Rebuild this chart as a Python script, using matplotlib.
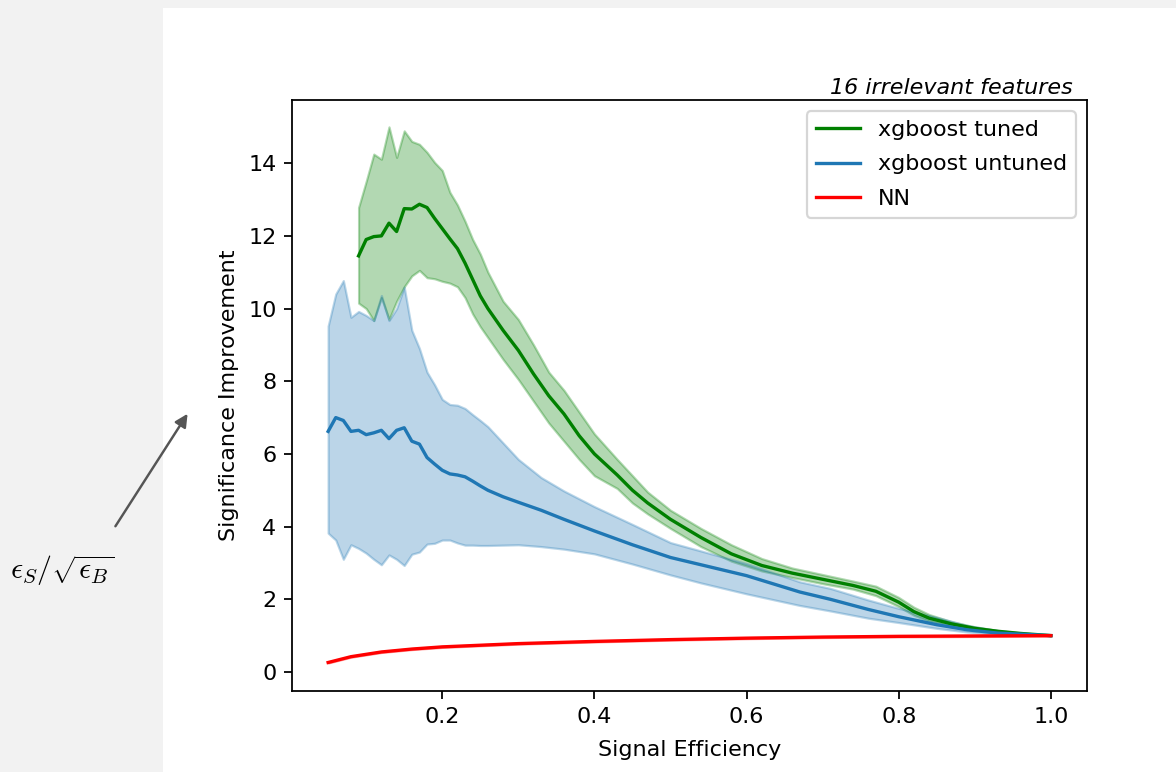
import matplotlib
matplotlib.use('Agg')
import matplotlib.pyplot as plt
from matplotlib.patches import Rectangle, FancyArrowPatch

plt.rcParams['mathtext.fontset'] = 'cm'

# xgboost tuned
x_tuned = [0.09, 0.10, 0.11, 0.12, 0.13, 0.14, 0.15, 0.16, 0.17, 0.18, 0.19, 0.20,
           0.21, 0.22, 0.23, 0.24, 0.25, 0.26, 0.28, 0.30, 0.32, 0.34, 0.36, 0.38,
           0.40, 0.43, 0.45, 0.47, 0.50, 0.54, 0.58, 0.62, 0.66, 0.70, 0.74, 0.77,
           0.80, 0.82, 0.84, 0.87, 0.90, 0.93, 0.96, 1.0]
tuned_mean = [11.45, 11.9, 11.98, 12.0, 12.35, 12.12, 12.75, 12.74, 12.87, 12.78, 12.48, 12.2,
              11.92, 11.65, 11.25, 10.8, 10.35, 10.0, 9.4, 8.85, 8.2, 7.6, 7.1, 6.5,
              6.0, 5.42, 5.0, 4.65, 4.2, 3.7, 3.25, 2.93, 2.72, 2.55, 2.38, 2.22,
              1.92, 1.66, 1.48, 1.32, 1.2, 1.12, 1.06, 1.0]
tuned_hi = [12.78, 13.5, 14.25, 14.11, 15.0, 14.16, 14.89, 14.6, 14.52, 14.3, 14.02, 13.8,
            13.2, 12.85, 12.4, 11.9, 11.5, 11.0, 10.2, 9.7, 9.0, 8.25, 7.75, 7.15,
            6.55, 5.85, 5.4, 4.95, 4.45, 3.95, 3.5, 3.12, 2.86, 2.68, 2.5, 2.36,
            2.05, 1.78, 1.58, 1.38, 1.24, 1.14, 1.07, 1.0]
tuned_lo = [10.15, 10.0, 9.67, 10.3, 9.7, 10.2, 10.6, 10.9, 11.05, 10.85, 10.82, 10.75,
            10.7, 10.6, 10.3, 9.85, 9.5, 9.2, 8.6, 8.05, 7.45, 6.85, 6.35, 5.85,
            5.4, 5.05, 4.65, 4.35, 3.95, 3.45, 3.05, 2.78, 2.6, 2.43, 2.28, 2.1,
            1.8, 1.56, 1.4, 1.27, 1.16, 1.1, 1.05, 1.0]

# xgboost untuned
x_untuned = [0.05, 0.06, 0.07, 0.08, 0.09, 0.10, 0.11, 0.12, 0.13, 0.14, 0.15, 0.16,
             0.17, 0.18, 0.19, 0.20, 0.21, 0.22, 0.23, 0.24, 0.25, 0.26, 0.28, 0.30,
             0.33, 0.36, 0.40, 0.45, 0.50, 0.54, 0.60, 0.67, 0.71, 0.76, 0.80, 0.85,
             0.89, 0.93, 1.0]
untuned_mean = [6.62, 7.0, 6.92, 6.62, 6.65, 6.53, 6.58, 6.65, 6.42, 6.65, 6.72, 6.35,
                6.27, 5.9, 5.72, 5.55, 5.45, 5.42, 5.37, 5.25, 5.12, 5.0, 4.82, 4.67,
                4.45, 4.2, 3.88, 3.5, 3.15, 2.95, 2.65, 2.2, 2.0, 1.72, 1.52, 1.3,
                1.16, 1.07, 1.0]
untuned_hi = [9.52, 10.4, 10.77, 9.76, 9.92, 9.81, 9.67, 10.36, 9.67, 10.0, 10.59, 9.4,
              8.9, 8.25, 7.9, 7.5, 7.36, 7.34, 7.25, 7.08, 6.92, 6.75, 6.3, 5.85,
              5.35, 4.98, 4.55, 4.06, 3.56, 3.33, 2.98, 2.48, 2.3, 1.98, 1.75, 1.5,
              1.28, 1.14, 1.0]
untuned_lo = [3.82, 3.63, 3.1, 3.5, 3.4, 3.27, 3.1, 2.95, 3.22, 3.1, 2.93, 3.24,
              3.3, 3.52, 3.54, 3.63, 3.63, 3.55, 3.49, 3.49, 3.48, 3.48, 3.49, 3.5,
              3.45, 3.38, 3.25, 2.97, 2.67, 2.45, 2.15, 1.83, 1.68, 1.48, 1.36, 1.2,
              1.1, 1.04, 1.0]

# NN
x_nn = [0.05, 0.08, 0.12, 0.16, 0.2, 0.3, 0.4, 0.5, 0.6, 0.7, 0.8, 0.9, 1.0]
nn_mean = [0.26, 0.42, 0.55, 0.63, 0.69, 0.78, 0.84, 0.89, 0.93, 0.96, 0.98, 0.99, 1.0]

fig = plt.figure(figsize=(7.35, 4.825), dpi=160, facecolor='#f2f2f2')
fig.patches.append(Rectangle((163/1176, 0), 1, (772-8)/772, transform=fig.transFigure,
                             facecolor='white', edgecolor='none', zorder=-10))
ax = fig.add_axes([292/1176, 81/772, 795/1176, 591/772])

ax.plot(x_tuned, tuned_mean, color='green', label='xgboost tuned')
ax.fill_between(x_tuned, tuned_lo, tuned_hi, color='green', alpha=0.3)
ax.plot(x_untuned, untuned_mean, color='C0', label='xgboost untuned')
ax.fill_between(x_untuned, untuned_lo, untuned_hi, color='C0', alpha=0.3)
ax.plot(x_nn, nn_mean, color='red', label='NN')
ax.fill_between(x_nn, [v - 0.045 for v in nn_mean], [v + 0.045 for v in nn_mean],
                color='red', alpha=0.35, lw=0)

ax.set_xticks([0.2, 0.4, 0.6, 0.8, 1.0])
ax.set_yticks([0, 2, 4, 6, 8, 10, 12, 14])
ax.set_xlabel('Signal Efficiency', labelpad=6)
ax.set_ylabel('Significance Improvement')
ax.text(0.982, 1.004, '16 irrelevant features', transform=ax.transAxes,
        ha='right', va='bottom', style='italic', fontsize=10)
ax.legend(loc='upper right', labelspacing=0.65)

fig.add_artist(FancyArrowPatch((113/1176, 1 - 530/772), (190/1176, 1 - 410/772),
                               transform=fig.transFigure, arrowstyle='-|>',
                               mutation_scale=12, color='#555555', lw=1.1))
fig.text(62/1176, 1 - 571/772, r'$\epsilon_S/\sqrt{\epsilon_B}$', fontsize=13.5,
         ha='center', va='center')

fig.savefig('out.png', dpi=160, facecolor=fig.get_facecolor())
